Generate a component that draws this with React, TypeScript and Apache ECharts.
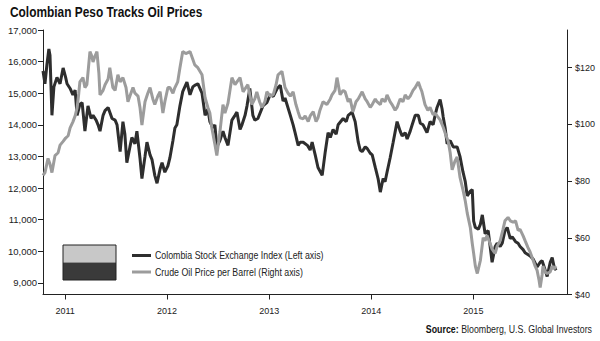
import React, { useEffect, useRef } from "react";
import * as echarts from "echarts";

const title = "Colombian Peso Tracks Oil Prices";
const colName = "Colombia Stock Exchange Index (Left axis)";
const oilName = "Crude Oil Price per Barrel (Right axis)";
const sourceLabel = "Source:";
const sourceText = " Bloomberg, U.S. Global Investors";

const colDates = [
  "2010-10-14","2010-10-21","2010-10-28","2010-11-04","2010-11-08","2010-11-15","2010-11-22","2010-12-03","2010-12-14","2010-12-25",
  "2011-01-03","2011-01-08","2011-01-19","2011-01-29","2011-02-06","2011-02-13","2011-02-23","2011-03-03","2011-03-13","2011-03-24",
  "2011-04-04","2011-04-11","2011-04-22","2011-04-29","2011-05-06","2011-05-17","2011-05-24","2011-06-04","2011-06-18","2011-06-29",
  "2011-07-06","2011-07-17","2011-07-27","2011-08-03","2011-08-10","2011-08-21","2011-08-28","2011-09-08","2011-09-15","2011-09-26",
  "2011-10-03","2011-10-14","2011-10-21","2011-11-01","2011-11-08","2011-11-18","2011-11-26","2011-12-07","2011-12-14","2011-12-24",
  "2012-01-04","2012-01-11","2012-01-22","2012-01-29","2012-02-05","2012-02-16","2012-02-26","2012-03-12","2012-03-23","2012-04-02",
  "2012-04-09","2012-04-20","2012-05-05","2012-05-16","2012-05-26","2012-06-02","2012-06-13","2012-06-20","2012-06-27","2012-07-08",
  "2012-07-19","2012-07-26","2012-08-06","2012-08-20","2012-08-31","2012-09-07","2012-09-18","2012-09-25","2012-10-06","2012-10-13",
  "2012-10-23","2012-11-03","2012-11-10","2012-11-21","2012-12-09","2012-12-23","2013-01-04","2013-01-15","2013-01-29","2013-02-09",
  "2013-02-19","2013-02-26","2013-03-17","2013-03-27","2013-04-03","2013-04-14","2013-04-21","2013-05-02","2013-05-17","2013-05-27",
  "2013-06-03","2013-06-14","2013-06-24","2013-07-09","2013-07-20","2013-07-30","2013-08-07","2013-08-17","2013-08-28","2013-09-04",
  "2013-09-22","2013-10-03","2013-10-10","2013-10-24","2013-11-04","2013-11-15","2013-11-22","2013-11-29","2013-12-10","2013-12-17",
  "2013-12-28","2014-01-04","2014-01-15","2014-01-25","2014-02-02","2014-02-12","2014-02-19","2014-02-26","2014-03-09","2014-03-20",
  "2014-04-03","2014-04-14","2014-04-21","2014-05-02","2014-05-09","2014-05-20","2014-05-27","2014-06-07","2014-06-18","2014-06-25",
  "2014-07-05","2014-07-19","2014-07-30","2014-08-10","2014-08-17","2014-08-24","2014-09-04","2014-09-11","2014-09-15","2014-09-22",
  "2014-09-29","2014-10-10","2014-10-21","2014-11-04","2014-11-14","2014-11-25","2014-12-03","2014-12-10","2014-12-21","2014-12-28",
  "2015-01-02","2015-01-08","2015-01-19","2015-01-26","2015-02-02","2015-02-12","2015-02-23","2015-03-02","2015-03-09","2015-03-20",
  "2015-03-27","2015-04-07","2015-04-14","2015-04-24","2015-05-02","2015-05-13","2015-05-20","2015-06-01","2015-06-10","2015-06-17",
  "2015-06-28","2015-07-05","2015-07-23","2015-08-03","2015-08-17","2015-08-28","2015-09-04","2015-09-15","2015-09-22","2015-10-03",
  "2015-10-10","2015-10-17","2015-10-24"
];
const colValues = [
  15700,15300,15900,16400,16200,14300,15200,15500,15300,15800,
  15500,15300,15150,14950,15100,14300,14650,14700,13800,14600,
  14200,14300,14150,14000,13800,14300,14450,14550,14200,14150,
  14000,13150,14100,13700,12800,13300,13600,13400,13800,12950,
  12300,13000,13450,13050,12900,12400,12150,12600,12800,12500,
  12700,12950,13500,13900,14000,14600,15050,15350,14950,15200,
  15250,15300,15000,14300,14500,14100,13900,14000,13300,13500,
  13800,13600,13350,14150,14300,14400,13850,14000,14300,14600,
  15150,14300,14150,14200,14600,14700,14950,14900,15150,15250,
  14750,14850,14300,14000,13750,13350,13450,13450,13350,13200,
  13450,13050,12650,12400,13150,13750,13600,13850,13700,14000,
  14200,14100,14300,14400,14100,13450,13200,13150,13300,13250,
  13100,13050,12650,12300,11870,12300,12200,12500,12950,13450,
  14100,13800,13650,13750,13550,13800,14000,14300,14300,14050,
  14000,13750,14100,14000,14300,14550,14800,14500,14250,13900,
  13400,13500,13300,13300,13000,12500,12200,11750,11900,11950,
  10950,10750,10700,10850,11150,10550,10650,10150,9650,10150,
  10250,10150,10250,10650,10750,10400,10450,10300,10250,10150,
  10050,9950,9850,9750,9500,9650,9700,9400,9200,9650,
  9800,9500,9400
];

const oilDates = [
  "2010-10-14","2010-10-21","2010-11-01","2010-11-08","2010-11-15","2010-11-26","2010-12-07","2010-12-14","2010-12-25","2011-01-03",
  "2011-01-12","2011-01-19","2011-01-29","2011-02-06","2011-02-13","2011-02-19","2011-02-23","2011-03-06","2011-03-13","2011-03-20",
  "2011-03-31","2011-04-07","2011-04-11","2011-04-18","2011-04-25","2011-05-02","2011-05-06","2011-05-17","2011-05-24","2011-06-04",
  "2011-06-10","2011-06-21","2011-06-29","2011-07-09","2011-07-17","2011-07-27","2011-08-07","2011-08-14","2011-08-21","2011-09-01",
  "2011-09-08","2011-09-19","2011-09-26","2011-10-03","2011-10-14","2011-10-24","2011-11-01","2011-11-11","2011-11-18","2011-11-29",
  "2011-12-07","2011-12-17","2011-12-24","2012-01-04","2012-01-11","2012-01-22","2012-01-29","2012-02-08","2012-02-16","2012-02-26",
  "2012-03-08","2012-03-23","2012-04-02","2012-04-09","2012-04-20","2012-05-05","2012-05-16","2012-05-26","2012-06-02","2012-06-09",
  "2012-06-20","2012-06-27","2012-07-08","2012-07-19","2012-07-26","2012-08-06","2012-08-13","2012-08-20","2012-08-31","2012-09-07",
  "2012-09-18","2012-09-29","2012-10-09","2012-10-16","2012-10-30","2012-11-10","2012-11-17","2012-11-27","2012-12-05","2012-12-16",
  "2012-12-23","2013-01-04","2013-01-15","2013-01-25","2013-02-01","2013-02-15","2013-02-26","2013-03-09","2013-03-17","2013-03-27",
  "2013-04-06","2013-04-14","2013-04-21","2013-05-02","2013-05-09","2013-05-20","2013-05-27","2013-06-07","2013-06-17","2013-06-24",
  "2013-07-01","2013-07-12","2013-07-26","2013-08-07","2013-08-13","2013-08-24","2013-08-31","2013-09-11","2013-09-22","2013-09-29",
  "2013-10-10","2013-10-17","2013-10-27","2013-11-07","2013-11-15","2013-11-29","2013-12-10","2013-12-17","2013-12-28","2014-01-04",
  "2014-01-15","2014-01-21","2014-02-02","2014-02-08","2014-02-19","2014-02-26","2014-03-09","2014-03-16","2014-03-27","2014-04-03",
  "2014-04-14","2014-04-24","2014-05-02","2014-05-12","2014-05-20","2014-05-30","2014-06-07","2014-06-18","2014-06-25","2014-07-01",
  "2014-07-12","2014-07-22","2014-07-30","2014-08-10","2014-08-17","2014-08-24","2014-09-04","2014-09-15","2014-09-22","2014-10-03",
  "2014-10-10","2014-10-17","2014-10-27","2014-11-04","2014-11-14","2014-11-25","2014-12-03","2014-12-10","2014-12-21","2014-12-28",
  "2015-01-02","2015-01-08","2015-01-15","2015-01-26","2015-02-05","2015-02-12","2015-02-19","2015-03-02","2015-03-09","2015-03-20",
  "2015-03-27","2015-04-07","2015-04-17","2015-04-24","2015-05-05","2015-05-13","2015-05-23","2015-06-01","2015-06-10","2015-06-17",
  "2015-06-28","2015-07-05","2015-07-15","2015-07-23","2015-08-03","2015-08-10","2015-08-17","2015-08-24","2015-08-28","2015-09-04",
  "2015-09-07","2015-09-15","2015-09-22","2015-10-03","2015-10-10","2015-10-17","2015-10-24"
];
const oilValues = [
  82,83,88,86,83,89,90,92.7,94,95.2,
  96,98.8,100.9,103,105.8,111,115,116.5,113,114,
  125.7,124,122,124,125.7,118,110.4,112,114,116,
  120,113,112,117.5,115,116.5,113,108,110,113,
  111,110,106,99.8,108,111,113,109,107,110,
  111.5,104,108,113,113,111,113,115,120,125.7,
  125,125.7,123,121,120,117.5,109.4,106,104,98.8,
  93,89,97.3,107,104,107.5,112,116.5,114,115,
  116.5,111.5,113,114,107,109,111.5,108,106,108,
  111.5,110,110.5,114,117.5,118.7,113,111,110,111.5,
  107,104.4,102.3,102,103,101,103,104.5,101,102.3,
  105,108,107,109,110.4,112,116.5,110.5,112,111.5,
  108,109,104.4,108,109,111.5,109,108,106,107,
  109,108,107,109,108,110.4,108,107,105,106,
  109,108,110.4,109,110,112,113,115,113,111.5,
  107,105,106,103.4,104,103,101.6,99,97,94,
  90,84,87,88.5,81.4,76.8,73,68.7,63.7,58,
  54.5,50,47.4,52,60,59,60.8,58,56,54.5,
  57,59,63,66,67.2,66,65.5,66,62.6,63,
  60.7,59,56.6,55,52,50,48.5,45,42.5,47,
  50,48,47.4,48,50,49,50
];

const yearLabels = [2011, 2012, 2013, 2014, 2015];
const leftTicks = [9000, 10000, 11000, 12000, 13000, 14000, 15000, 16000, 17000];
const rightTicks = [40, 60, 80, 100, 120];
const xStart = "2010-10-14";
const xEnd = "2015-12-02";

const FONT = "'Liberation Sans', Arial, sans-serif";
const DARK = "#2e2e2e";
const GRAY = "#9c9c9c";

function ts(s: string): number {
  const [y, m, d] = s.split("-").map(Number);
  return new Date(y, m - 1, d).getTime();
}

export default function App() {
  const ref = useRef<HTMLDivElement>(null);
  useEffect(() => {
    if (!ref.current) return;
    const chart = echarts.init(ref.current, undefined, { renderer: "svg" });
    const yearTs = yearLabels.map((y) => new Date(y, 0, 1).getTime());
    const colData = colDates.map((d, i) => [ts(d), colValues[i]]);
    const oilData = oilDates.map((d, i) => [ts(d), oilValues[i]]);
    const axisLineStyle = { color: "#222", width: 1 };
    const labelStyle = { fontSize: 9.5, color: "#222", fontFamily: FONT };
    chart.setOption({
      animation: false,
      backgroundColor: "#fff",
      textStyle: { fontFamily: FONT },
      grid: { left: 43, right: 33, top: 30, bottom: 46.5, containLabel: false },
      xAxis: {
        type: "value",
        min: ts(xStart),
        max: ts(xEnd),
        axisLine: { show: true, lineStyle: axisLineStyle },
        axisTick: { show: true, length: 5, lineStyle: axisLineStyle, customValues: yearTs },
        axisLabel: {
          ...labelStyle,
          fontSize: 9,
          customValues: yearTs,
          formatter: (v: number) => String(new Date(v).getFullYear()),
          margin: 12,
        },
        splitLine: { show: false },
      },
      yAxis: [
        {
          type: "value",
          min: 8630,
          max: 17000,
          position: "left",
          axisLine: { show: true, lineStyle: axisLineStyle },
          axisTick: { show: true, length: 5, lineStyle: axisLineStyle, customValues: leftTicks },
          axisLabel: {
            ...labelStyle,
            customValues: leftTicks,
            formatter: (v: number) => v.toLocaleString("en-US"),
            margin: 6,
          },
          splitLine: { show: false },
        },
        {
          type: "value",
          min: 40,
          max: 133.3,
          position: "right",
          axisLine: { show: true, lineStyle: axisLineStyle },
          axisTick: { show: true, length: 5, lineStyle: axisLineStyle, customValues: rightTicks },
          axisLabel: {
            ...labelStyle,
            fontSize: 9,
            customValues: rightTicks,
            formatter: (v: number) => "$" + v,
            margin: 8,
          },
          splitLine: { show: false },
        },
      ],
      graphic: [
        {
          type: "text",
          x: 10,
          y: 12,
          scaleX: 0.85,
          style: {
            text: title,
            fontSize: 14,
            fontWeight: "bold",
            fontFamily: FONT,
            fill: "#111",
            textAlign: "left",
            textVerticalAlign: "middle",
          },
        },
        {
          type: "rect",
          shape: { x: 63, y: 245, width: 53, height: 17.5 },
          style: { fill: "#c8c8c8", stroke: "none" },
        },
        {
          type: "rect",
          shape: { x: 63, y: 262.5, width: 53, height: 17.5 },
          style: { fill: "#3a3a3a", stroke: "none" },
        },
        {
          type: "rect",
          shape: { x: 63, y: 245, width: 53, height: 35 },
          style: { fill: "none", stroke: "#222", lineWidth: 1 },
        },
        {
          type: "line",
          shape: { x1: 132, y1: 255.5, x2: 151, y2: 255.5 },
          style: { stroke: DARK, lineWidth: 3 },
        },
        {
          type: "line",
          shape: { x1: 132, y1: 272, x2: 151, y2: 272 },
          style: { stroke: GRAY, lineWidth: 3 },
        },
        {
          type: "text",
          x: 155,
          y: 255.5,
          scaleX: 0.84,
          style: {
            text: colName,
            fontSize: 10.5,
            fontFamily: FONT,
            fill: "#222",
            textAlign: "left",
            textVerticalAlign: "middle",
          },
        },
        {
          type: "text",
          x: 155,
          y: 272,
          scaleX: 0.84,
          style: {
            text: oilName,
            fontSize: 10.5,
            fontFamily: FONT,
            fill: "#222",
            textAlign: "left",
            textVerticalAlign: "middle",
          },
        },
        {
          type: "text",
          x: 592,
          y: 329,
          scaleX: 0.84,
          style: {
            text: "{b|" + sourceLabel + "}" + sourceText,
            fontSize: 10.5,
            fontFamily: FONT,
            fill: "#222",
            textAlign: "right",
            textVerticalAlign: "middle",
            rich: { b: { fontWeight: "bold", fontSize: 10.5, fontFamily: FONT, fill: "#111" } },
          },
        },
      ],
      series: [
        {
          name: colName,
          type: "line",
          yAxisIndex: 0,
          data: colData,
          showSymbol: false,
          color: DARK,
          lineStyle: { color: DARK, width: 3 },
        },
        {
          name: oilName,
          type: "line",
          yAxisIndex: 1,
          data: oilData,
          showSymbol: false,
          color: GRAY,
          lineStyle: { color: GRAY, width: 3 },
        },
      ],
    });
    return () => chart.dispose();
  }, []);
  return <div ref={ref} style={{ position: "fixed", left: 0, top: 0, width: 600, height: 341 }} />;
}
